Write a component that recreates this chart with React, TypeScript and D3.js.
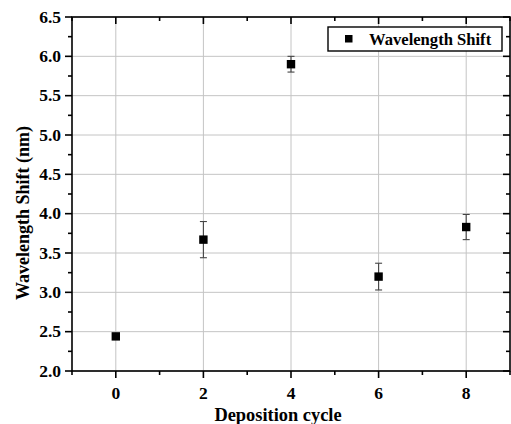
import React from "react";
import * as d3 from "d3";

const cycles = [0, 2, 4, 6, 8];
const shifts = [2.44, 3.67, 5.9, 3.2, 3.83];
const errors = [0.03, 0.23, 0.1, 0.17, 0.16];
const xMajorTicks = [0, 2, 4, 6, 8];
const yMajorTicks = [2.0, 2.5, 3.0, 3.5, 4.0, 4.5, 5.0, 5.5, 6.0, 6.5];
const seriesName = "Wavelength Shift";
const xTitle = "Deposition cycle";
const yTitle = "Wavelength Shift (nm)";

const W = 511, H = 424;
const L = 72, R = 510, T = 17, B = 371;
const font = "Liberation Serif, Times New Roman, serif";

export default function App() {
  const x = d3.scaleLinear().domain([-1, 9]).range([L, R]);
  const y = d3.scaleLinear().domain([2, 6.5]).range([B, T]);
  const xMinor = d3.range(-1, 10, 1).filter((v) => !xMajorTicks.includes(v));
  const yMinor = d3.range(2.25, 6.5, 0.5);
  const ts: React.CSSProperties = { fontFamily: font, fontWeight: 700 };

  return (
    <svg width={W} height={H} style={{ position: "absolute", left: 0, top: 0 }}>
      <rect width={W} height={H} fill="#fff" />
      {yMajorTicks.map((v) => (
        <line key={"gy" + v} x1={L} x2={R} y1={y(v)} y2={y(v)} stroke="#c4c4c4" strokeWidth={1} />
      ))}
      {xMajorTicks.map((v) => (
        <line key={"gx" + v} x1={x(v)} x2={x(v)} y1={T} y2={B} stroke="#c4c4c4" strokeWidth={1} />
      ))}
      <rect x={L} y={T} width={R - L} height={B - T} fill="none" stroke="#000" strokeWidth={1.6} />
      {xMajorTicks.map((v) => (
        <g key={"xt" + v}>
          <line x1={x(v)} x2={x(v)} y1={B} y2={B + 7} stroke="#000" strokeWidth={1.6} />
          <line x1={x(v)} x2={x(v)} y1={T} y2={T + 7} stroke="#000" strokeWidth={1.6} />
          <text x={x(v)} y={398.5} textAnchor="middle" fontSize={17.5} style={ts}>{v}</text>
        </g>
      ))}
      {xMinor.map((v) => (
        <g key={"xm" + v}>
          <line x1={x(v)} x2={x(v)} y1={B} y2={B + 4} stroke="#000" strokeWidth={1.6} />
          <line x1={x(v)} x2={x(v)} y1={T} y2={T + 4} stroke="#000" strokeWidth={1.6} />
        </g>
      ))}
      {yMajorTicks.map((v) => (
        <g key={"yt" + v}>
          <line x1={L - 7} x2={L} y1={y(v)} y2={y(v)} stroke="#000" strokeWidth={1.6} />
          <line x1={R - 7} x2={R} y1={y(v)} y2={y(v)} stroke="#000" strokeWidth={1.6} />
          <text x={61} y={y(v) + 5.8} textAnchor="end" fontSize={17.5} style={ts}>{v.toFixed(1)}</text>
        </g>
      ))}
      {yMinor.map((v) => (
        <g key={"ym" + v}>
          <line x1={L - 4} x2={L} y1={y(v)} y2={y(v)} stroke="#000" strokeWidth={1.6} />
          <line x1={R - 4} x2={R} y1={y(v)} y2={y(v)} stroke="#000" strokeWidth={1.6} />
        </g>
      ))}
      {cycles.map((c, i) => {
        const cx = x(c);
        const y1 = y(shifts[i] + errors[i]);
        const y2 = y(shifts[i] - errors[i]);
        return (
          <g key={"e" + c} stroke="#444" strokeWidth={1.1}>
            <line x1={cx} x2={cx} y1={y1} y2={y2} />
            <line x1={cx - 3.5} x2={cx + 3.5} y1={y1} y2={y1} />
            <line x1={cx - 3.5} x2={cx + 3.5} y1={y2} y2={y2} />
          </g>
        );
      })}
      {cycles.map((c, i) => (
        <rect key={"m" + c} x={x(c) - 4.2} y={y(shifts[i]) - 4.2} width={8.4} height={8.4} fill="#000" />
      ))}
      <rect x={328} y={27} width={174} height={24} fill="#fff" stroke="#000" strokeWidth={1.4} />
      <rect x={345} y={35} width={7.5} height={7.5} fill="#000" />
      <text x={369} y={45} fontSize={16.6} style={ts}>{seriesName}</text>
      <text x={(L + R) / 2 - 13} y={421} textAnchor="middle" fontSize={18.4} style={ts}>{xTitle}</text>
      <text transform={`translate(29,213) rotate(-90)`} textAnchor="middle" fontSize={18} style={ts}>{yTitle}</text>
    </svg>
  );
}
